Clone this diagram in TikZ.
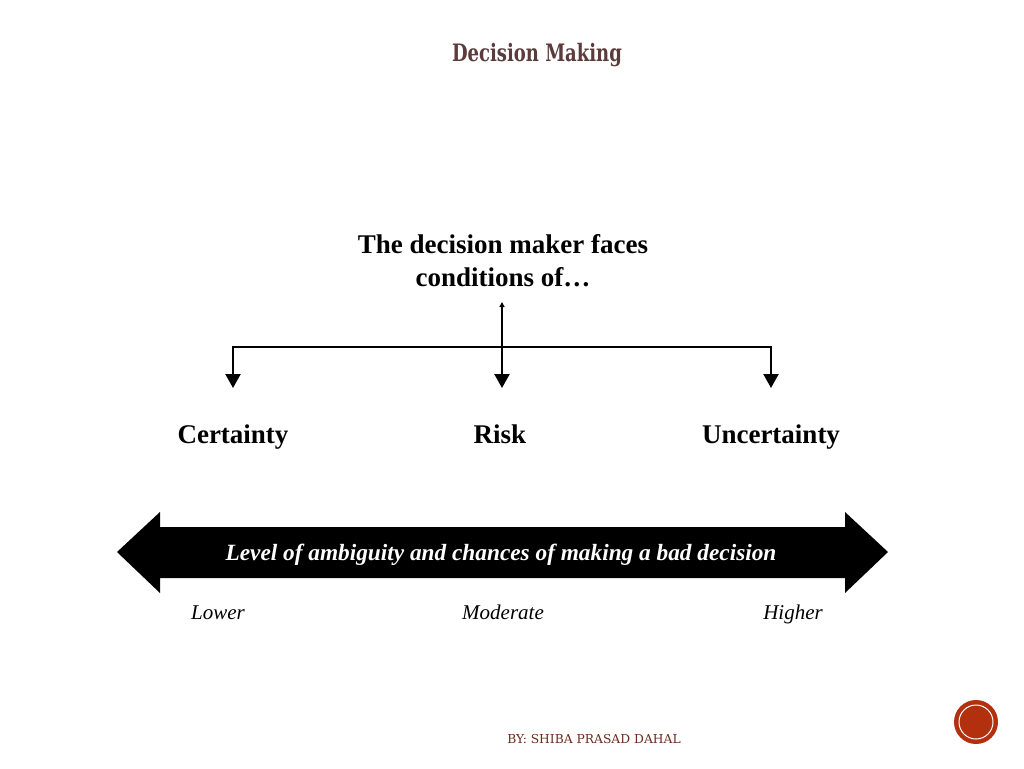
\documentclass[tikz,border=0pt]{standalone}
\usepackage{fontspec}
\setmainfont{Liberation Serif}
\newfontfamily\slabfont{DejaVu Serif}
\newfontfamily\titlefont[FakeStretch=0.75]{DejaVu Serif}
\usetikzlibrary{arrows.meta}
\definecolor{titlebrown}{HTML}{5B3B3B}
\definecolor{footbrown}{HTML}{6E2A1C}
\definecolor{dotred}{HTML}{B3300E}

\begin{document}
\begin{tikzpicture}[x=1pt, y=-1pt, line width=2.2pt,
        cond/.style={anchor=base, font=\fontsize{27}{33}\selectfont\bfseries},
        level/.style={anchor=base, font=\fontsize{21}{24}\selectfont\itshape},
        tip/.style={-{Triangle[length=14pt,width=15pt]}}]
    \useasboundingbox[fill=white] (0,0) rectangle (1024,768);
    \node[font=\titlefont\fontsize{24}{28}\selectfont\bfseries, text=titlebrown, anchor=base] (title) at (537,61) {Decision Making};
    \node[cond, align=center] (faces) at (503,286) {The decision maker faces\\conditions of\ldots};
    \node[cond] (cert) at (233,443) {Certainty};
    \node[cond] (risk) at (500,443) {Risk};
    \node[cond] (uncert) at (771,443) {Uncertainty};
    \coordinate (top) at (502,302);
    \coordinate (split) at (502,347);
    \coordinate (c1) at (233,388);
    \coordinate (c2) at (502,388);
    \coordinate (c3) at (771,388);
    \draw[{Triangle[length=5pt,width=5pt]}-] (top) -- (split);
    \draw[tip] (split) -- (c2);
    \draw[tip] (split) -| (c1);
    \draw[tip] (split) -| (c3);
    \fill (117,552) -- (160,512) -- (160,527) -- (845,527) -- (845,512) -- (888,552)
        -- (845,593) -- (845,578) -- (160,578) -- (160,593) -- cycle;
    \node[text=white, anchor=base, font=\fontsize{23.3}{26}\selectfont\bfseries\itshape] (ambig) at (501,560) {Level of ambiguity and chances of making a bad decision};
    \node[level] (low) at (218,619) {Lower};
    \node[level] (mod) at (503,619) {Moderate};
    \node[level] (high) at (793,619) {Higher};
    \node[font=\slabfont\fontsize{12.3}{14}\selectfont, text=footbrown, anchor=base] (by) at (594,743) {BY: SHIBA PRASAD DAHAL};
    \node[circle, fill=dotred, minimum size=44pt, inner sep=0pt] (dot) at (976,722) {};
    \draw[white, line width=1pt] (dot.center) circle (17);
\end{tikzpicture}
\end{document}
